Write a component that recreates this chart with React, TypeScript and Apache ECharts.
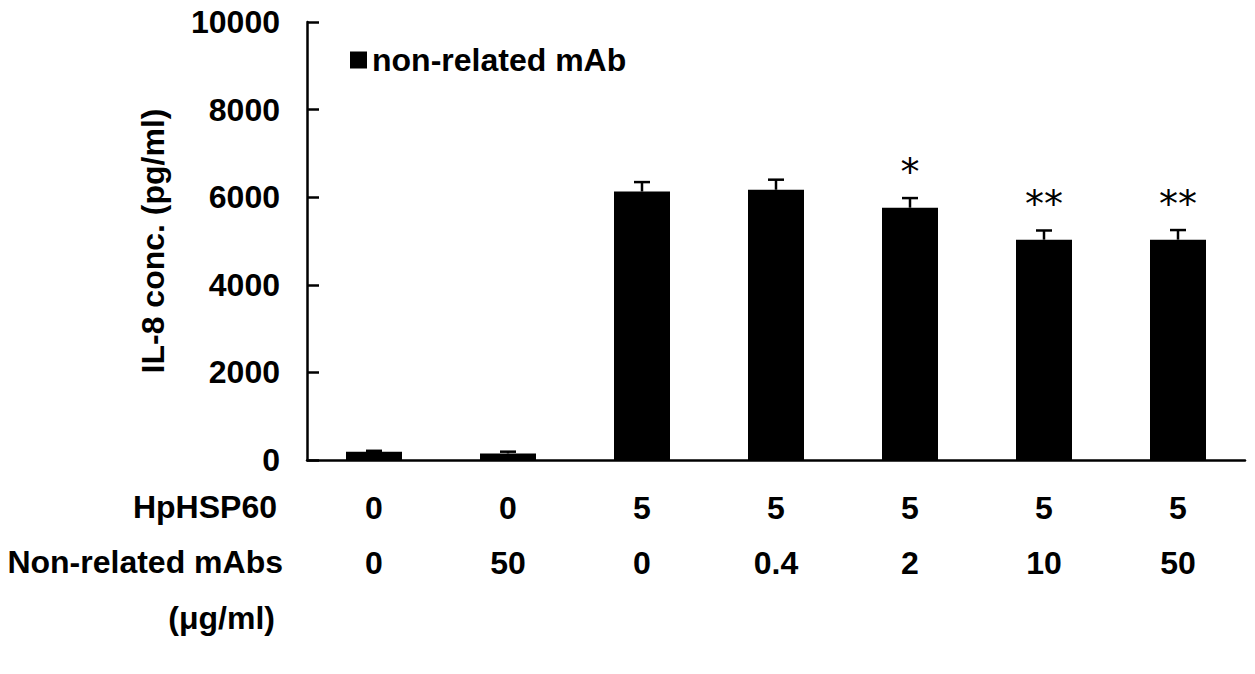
import React, { useEffect, useRef } from "react";
import * as echarts from "echarts";

const hspDose = ["0", "0", "5", "5", "5", "5", "5"];
const mabDose = ["0", "50", "0", "0.4", "2", "10", "50"];
const il8Mean = [190, 150, 6130, 6170, 5760, 5030, 5030];
const il8Err = [20, 40, 215, 230, 220, 210, 220];
const significance = ["", "", "", "", "*", "**", "**"];
const rowLabels = ["HpHSP60", "Non-related mAbs", "(\u03bcg/ml)"];
const seriesName = "non-related mAb";
const yMin = 0;
const yMax = 10000;
const yInterval = 2000;

const FONT = "'Liberation Sans', Arial, Helvetica, sans-serif";
const FS = 32;

export default function App() {
  const ref = useRef<HTMLDivElement>(null);
  useEffect(() => {
    if (!ref.current) return;
    const chart = echarts.init(ref.current, undefined, { renderer: "svg" });
    const categories = hspDose.map((h, i) => `${h}\n${mabDose[i]}`);
    const rowY = [507, 562, 618];
    const rowRight = [277, 283, 275];
    const option: any = {
      animation: false,
      backgroundColor: "#ffffff",
      textStyle: { fontFamily: FONT },
      grid: { left: 307, right: 10, top: 22, bottom: 214, containLabel: false },
      legend: {
        left: 345,
        top: 39,
        icon: "rect",
        itemWidth: 17,
        itemHeight: 17,
        selectedMode: false,
        data: [seriesName],
        textStyle: { fontFamily: FONT, fontWeight: "bold", fontSize: FS, color: "#000" },
      },
      xAxis: {
        type: "category",
        data: categories,
        axisLine: { lineStyle: { color: "#000", width: 2.5 } },
        axisTick: { inside: true, length: 10, lineStyle: { color: "#000", width: 2.5 } },
        axisLabel: {
          margin: 20,
          fontFamily: FONT,
          fontWeight: "bold",
          fontSize: FS,
          color: "#000",
          lineHeight: 55,
        },
        splitLine: { show: false },
      },
      yAxis: {
        type: "value",
        min: yMin,
        max: yMax,
        interval: yInterval,
        name: "IL-8 conc. (pg/ml)",
        nameLocation: "middle",
        nameGap: 138,
        nameRotate: 90,
        nameTextStyle: { fontFamily: FONT, fontWeight: "bold", fontSize: FS, color: "#000" },
        axisLine: { show: true, lineStyle: { color: "#000", width: 2.5 } },
        axisTick: { show: true, inside: true, length: 12, lineStyle: { color: "#000", width: 2.5 } },
        axisLabel: {
          margin: 27,
          fontFamily: FONT,
          fontWeight: "bold",
          fontSize: FS,
          color: "#000",
          formatter: (v: number) => String(v),
        },
        splitLine: { show: false },
      },
      graphic: rowLabels.map((t, i) => ({
        type: "text",
        x: rowRight[i],
        y: rowY[i],
        style: {
          text: t,
          fontFamily: FONT,
          fontWeight: "bold",
          fontSize: FS,
          fill: "#000",
          textAlign: "right",
          textVerticalAlign: "middle",
        },
      })),
      series: [
        {
          name: seriesName,
          type: "bar",
          data: il8Mean,
          barWidth: 56,
          itemStyle: { color: "#000" },
          z: 2,
        },
        {
          type: "custom",
          name: "error",
          data: il8Mean.map((m, i) => [i, m, m + il8Err[i]]),
          z: 3,
          renderItem: (params: any, api: any) => {
            const base = api.coord([api.value(0), api.value(1)]);
            const top = api.coord([api.value(0), api.value(2)]);
            const cap = 8;
            const children: any[] = [
              {
                type: "line",
                shape: { x1: base[0], y1: base[1], x2: top[0], y2: top[1] },
                style: { stroke: "#000", lineWidth: 2.5 },
              },
              {
                type: "line",
                shape: { x1: top[0] - cap, y1: top[1], x2: top[0] + cap, y2: top[1] },
                style: { stroke: "#000", lineWidth: 2.5 },
              },
            ];
            const sig = significance[params.dataIndex];
            if (sig) {
              children.push({
                type: "text",
                x: top[0],
                y: top[1] - 26,
                style: {
                  text: sig,
                  fontFamily: "'DejaVu Sans', sans-serif",
                  fontSize: 38,
                  fill: "#000",
                  textAlign: "center",
                  textVerticalAlign: "middle",
                },
              });
            }
            return { type: "group", children };
          },
        },
      ],
    };
    chart.setOption(option);
    return () => chart.dispose();
  }, []);
  return (
    <div
      ref={ref}
      style={{ position: "fixed", left: 0, top: 0, width: 1255, height: 674, background: "#fff" }}
    />
  );
}
